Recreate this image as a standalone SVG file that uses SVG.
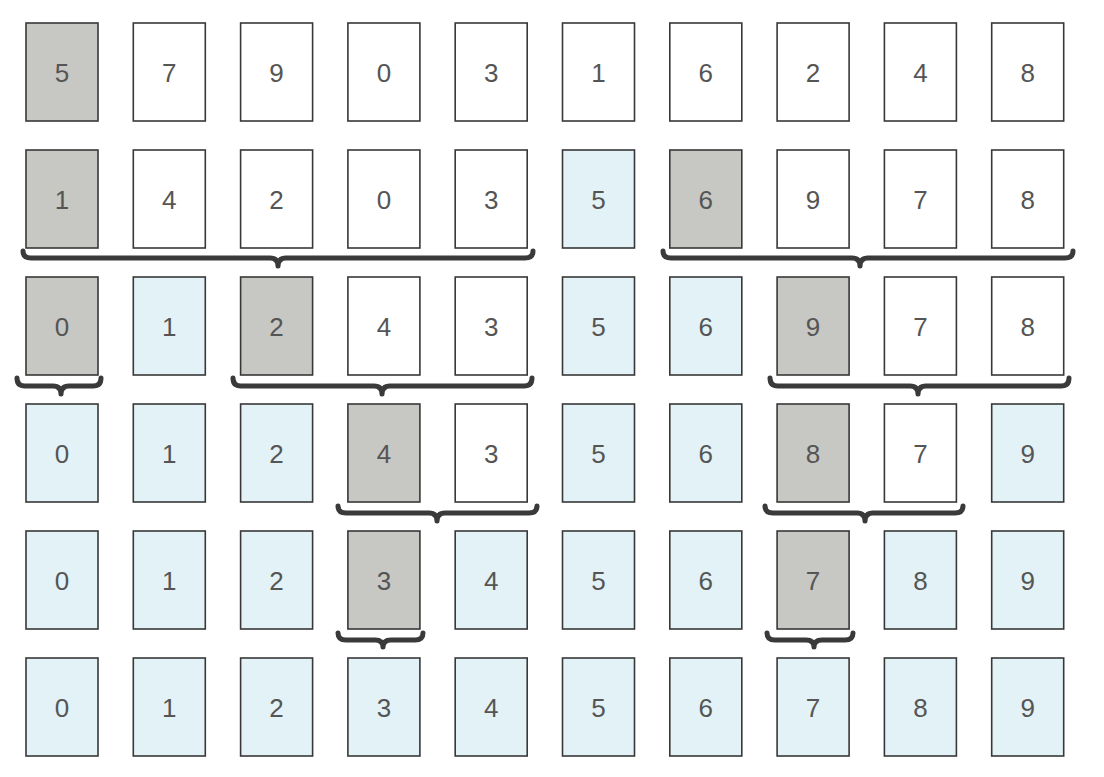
<svg xmlns="http://www.w3.org/2000/svg" width="1104" height="777" viewBox="0 0 1104 777">
<style>
.b{stroke:#383838;stroke-width:1.6}
.w{fill:#ffffff}
.g{fill:#c7c7c3}
.l{fill:#e3f2f6}
text{font-family:"Liberation Sans",Arial,sans-serif;font-size:26px;fill:#555555;text-anchor:middle}
.br{fill:none;stroke:#3a3a3a;stroke-width:5;stroke-linejoin:round;stroke-linecap:round}
</style>
<rect width="1104" height="777" fill="#ffffff"/>
<g id="row1">
<g id="r1c0"><rect class="b g" x="26" y="23" width="72" height="98"/><text x="62" y="82">5</text></g>
<g id="r1c1"><rect class="b w" x="133.3" y="23" width="72" height="98"/><text x="169.3" y="82">7</text></g>
<g id="r1c2"><rect class="b w" x="240.6" y="23" width="72" height="98"/><text x="276.6" y="82">9</text></g>
<g id="r1c3"><rect class="b w" x="347.9" y="23" width="72" height="98"/><text x="383.9" y="82">0</text></g>
<g id="r1c4"><rect class="b w" x="455.2" y="23" width="72" height="98"/><text x="491.2" y="82">3</text></g>
<g id="r1c5"><rect class="b w" x="562.5" y="23" width="72" height="98"/><text x="598.5" y="82">1</text></g>
<g id="r1c6"><rect class="b w" x="669.8" y="23" width="72" height="98"/><text x="705.8" y="82">6</text></g>
<g id="r1c7"><rect class="b w" x="777.1" y="23" width="72" height="98"/><text x="813.1" y="82">2</text></g>
<g id="r1c8"><rect class="b w" x="884.4" y="23" width="72" height="98"/><text x="920.4" y="82">4</text></g>
<g id="r1c9"><rect class="b w" x="991.7" y="23" width="72" height="98"/><text x="1027.7" y="82">8</text></g>
</g>
<g id="row2">
<g id="r2c0"><rect class="b g" x="26" y="150" width="72" height="98"/><text x="62" y="209">1</text></g>
<g id="r2c1"><rect class="b w" x="133.3" y="150" width="72" height="98"/><text x="169.3" y="209">4</text></g>
<g id="r2c2"><rect class="b w" x="240.6" y="150" width="72" height="98"/><text x="276.6" y="209">2</text></g>
<g id="r2c3"><rect class="b w" x="347.9" y="150" width="72" height="98"/><text x="383.9" y="209">0</text></g>
<g id="r2c4"><rect class="b w" x="455.2" y="150" width="72" height="98"/><text x="491.2" y="209">3</text></g>
<g id="r2c5"><rect class="b l" x="562.5" y="150" width="72" height="98"/><text x="598.5" y="209">5</text></g>
<g id="r2c6"><rect class="b g" x="669.8" y="150" width="72" height="98"/><text x="705.8" y="209">6</text></g>
<g id="r2c7"><rect class="b w" x="777.1" y="150" width="72" height="98"/><text x="813.1" y="209">9</text></g>
<g id="r2c8"><rect class="b w" x="884.4" y="150" width="72" height="98"/><text x="920.4" y="209">7</text></g>
<g id="r2c9"><rect class="b w" x="991.7" y="150" width="72" height="98"/><text x="1027.7" y="209">8</text></g>
</g>
<g id="row3">
<g id="r3c0"><rect class="b g" x="26" y="277" width="72" height="98"/><text x="62" y="336">0</text></g>
<g id="r3c1"><rect class="b l" x="133.3" y="277" width="72" height="98"/><text x="169.3" y="336">1</text></g>
<g id="r3c2"><rect class="b g" x="240.6" y="277" width="72" height="98"/><text x="276.6" y="336">2</text></g>
<g id="r3c3"><rect class="b w" x="347.9" y="277" width="72" height="98"/><text x="383.9" y="336">4</text></g>
<g id="r3c4"><rect class="b w" x="455.2" y="277" width="72" height="98"/><text x="491.2" y="336">3</text></g>
<g id="r3c5"><rect class="b l" x="562.5" y="277" width="72" height="98"/><text x="598.5" y="336">5</text></g>
<g id="r3c6"><rect class="b l" x="669.8" y="277" width="72" height="98"/><text x="705.8" y="336">6</text></g>
<g id="r3c7"><rect class="b g" x="777.1" y="277" width="72" height="98"/><text x="813.1" y="336">9</text></g>
<g id="r3c8"><rect class="b w" x="884.4" y="277" width="72" height="98"/><text x="920.4" y="336">7</text></g>
<g id="r3c9"><rect class="b w" x="991.7" y="277" width="72" height="98"/><text x="1027.7" y="336">8</text></g>
</g>
<g id="row4">
<g id="r4c0"><rect class="b l" x="26" y="404" width="72" height="98"/><text x="62" y="463">0</text></g>
<g id="r4c1"><rect class="b l" x="133.3" y="404" width="72" height="98"/><text x="169.3" y="463">1</text></g>
<g id="r4c2"><rect class="b l" x="240.6" y="404" width="72" height="98"/><text x="276.6" y="463">2</text></g>
<g id="r4c3"><rect class="b g" x="347.9" y="404" width="72" height="98"/><text x="383.9" y="463">4</text></g>
<g id="r4c4"><rect class="b w" x="455.2" y="404" width="72" height="98"/><text x="491.2" y="463">3</text></g>
<g id="r4c5"><rect class="b l" x="562.5" y="404" width="72" height="98"/><text x="598.5" y="463">5</text></g>
<g id="r4c6"><rect class="b l" x="669.8" y="404" width="72" height="98"/><text x="705.8" y="463">6</text></g>
<g id="r4c7"><rect class="b g" x="777.1" y="404" width="72" height="98"/><text x="813.1" y="463">8</text></g>
<g id="r4c8"><rect class="b w" x="884.4" y="404" width="72" height="98"/><text x="920.4" y="463">7</text></g>
<g id="r4c9"><rect class="b l" x="991.7" y="404" width="72" height="98"/><text x="1027.7" y="463">9</text></g>
</g>
<g id="row5">
<g id="r5c0"><rect class="b l" x="26" y="531" width="72" height="98"/><text x="62" y="590">0</text></g>
<g id="r5c1"><rect class="b l" x="133.3" y="531" width="72" height="98"/><text x="169.3" y="590">1</text></g>
<g id="r5c2"><rect class="b l" x="240.6" y="531" width="72" height="98"/><text x="276.6" y="590">2</text></g>
<g id="r5c3"><rect class="b g" x="347.9" y="531" width="72" height="98"/><text x="383.9" y="590">3</text></g>
<g id="r5c4"><rect class="b l" x="455.2" y="531" width="72" height="98"/><text x="491.2" y="590">4</text></g>
<g id="r5c5"><rect class="b l" x="562.5" y="531" width="72" height="98"/><text x="598.5" y="590">5</text></g>
<g id="r5c6"><rect class="b l" x="669.8" y="531" width="72" height="98"/><text x="705.8" y="590">6</text></g>
<g id="r5c7"><rect class="b g" x="777.1" y="531" width="72" height="98"/><text x="813.1" y="590">7</text></g>
<g id="r5c8"><rect class="b l" x="884.4" y="531" width="72" height="98"/><text x="920.4" y="590">8</text></g>
<g id="r5c9"><rect class="b l" x="991.7" y="531" width="72" height="98"/><text x="1027.7" y="590">9</text></g>
</g>
<g id="row6">
<g id="r6c0"><rect class="b l" x="26" y="658" width="72" height="98"/><text x="62" y="717">0</text></g>
<g id="r6c1"><rect class="b l" x="133.3" y="658" width="72" height="98"/><text x="169.3" y="717">1</text></g>
<g id="r6c2"><rect class="b l" x="240.6" y="658" width="72" height="98"/><text x="276.6" y="717">2</text></g>
<g id="r6c3"><rect class="b l" x="347.9" y="658" width="72" height="98"/><text x="383.9" y="717">3</text></g>
<g id="r6c4"><rect class="b l" x="455.2" y="658" width="72" height="98"/><text x="491.2" y="717">4</text></g>
<g id="r6c5"><rect class="b l" x="562.5" y="658" width="72" height="98"/><text x="598.5" y="717">5</text></g>
<g id="r6c6"><rect class="b l" x="669.8" y="658" width="72" height="98"/><text x="705.8" y="717">6</text></g>
<g id="r6c7"><rect class="b l" x="777.1" y="658" width="72" height="98"/><text x="813.1" y="717">7</text></g>
<g id="r6c8"><rect class="b l" x="884.4" y="658" width="72" height="98"/><text x="920.4" y="717">8</text></g>
<g id="r6c9"><rect class="b l" x="991.7" y="658" width="72" height="98"/><text x="1027.7" y="717">9</text></g>
</g>
<g id="connectors">
<path class="br" d="M23,251 Q23,258 31,258 L270,258 Q278,258 278,266 Q278,258 286,258 L525,258 Q533,258 533,251"/>
<path class="br" d="M663,251 Q663,258 671,258 L852,258 Q860,258 860,266 Q860,258 868,258 L1065,258 Q1073,258 1073,251"/>
<path class="br" d="M17,378 Q17,386 25,386 L53,386 Q61,386 61,394 Q61,386 69,386 L93,386 Q101,386 101,378"/>
<path class="br" d="M233,378 Q233,386 241,386 L374,386 Q382,386 382,394 Q382,386 390,386 L524,386 Q532,386 532,378"/>
<path class="br" d="M770,378 Q770,386 778,386 L910,386 Q918,386 918,394 Q918,386 926,386 L1061,386 Q1069,386 1069,378"/>
<path class="br" d="M338,506 Q338,513 346,513 L429,513 Q437,513 437,521 Q437,513 445,513 L529,513 Q537,513 537,506"/>
<path class="br" d="M765,506 Q765,513 773,513 L857,513 Q865,513 865,521 Q865,513 873,513 L955,513 Q963,513 963,506"/>
<path class="br" d="M338,633 Q338,640 346,640 L375,640 Q383,640 383,647 Q383,640 391,640 L415,640 Q423,640 423,633"/>
<path class="br" d="M767,633 Q767,640 775,640 L806,640 Q814,640 814,647 Q814,640 822,640 L845,640 Q853,640 853,633"/>
</g>
</svg>
